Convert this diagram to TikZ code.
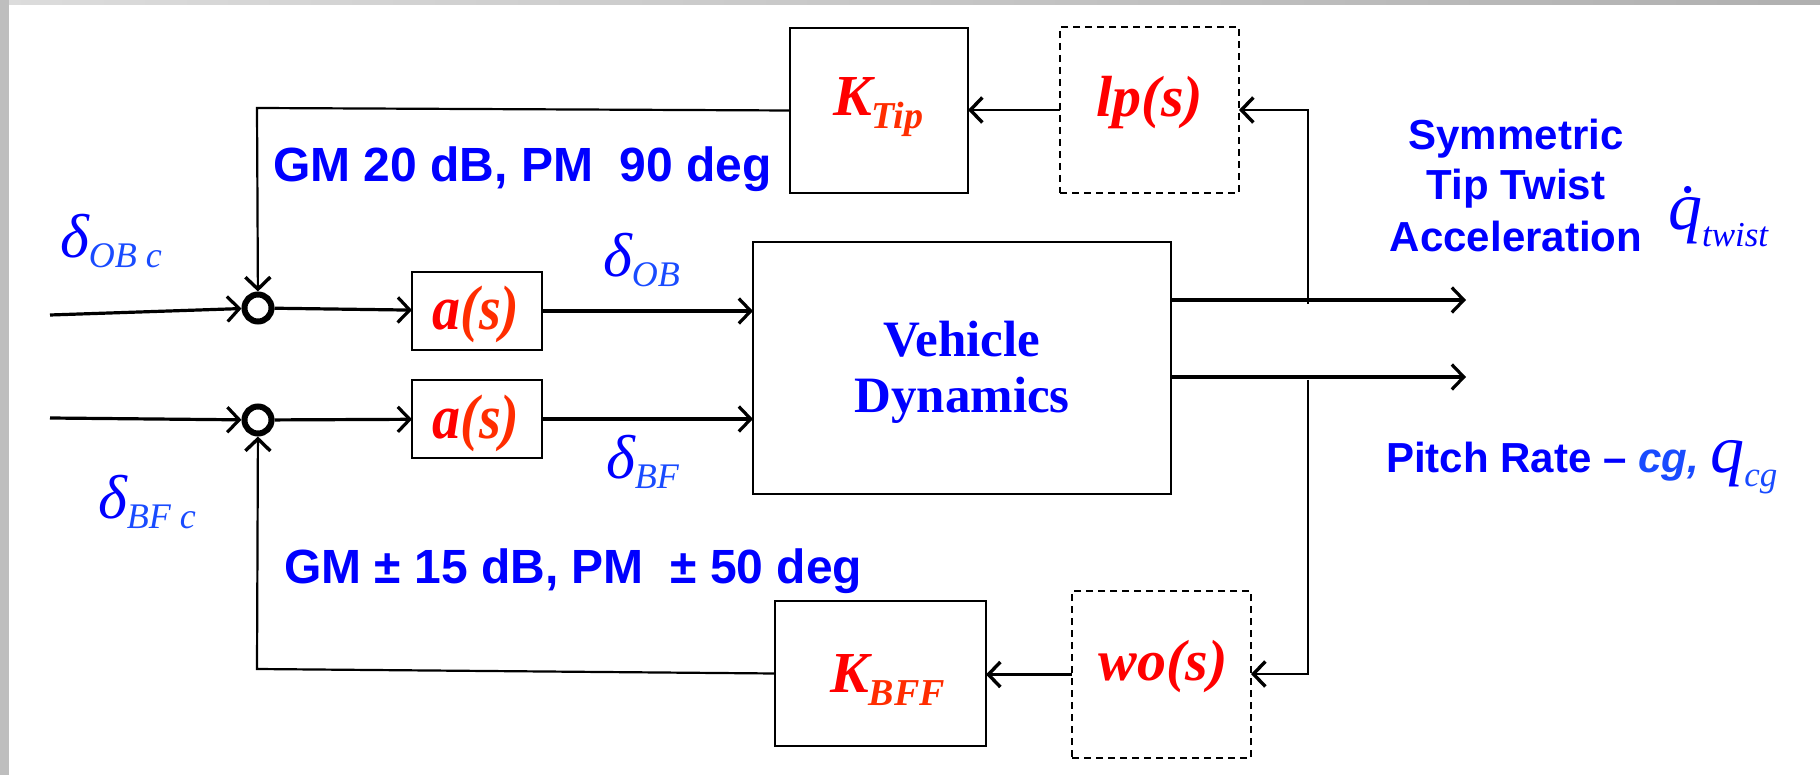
\documentclass[tikz,border=0pt]{standalone}
\usepackage{fontspec}
\setmainfont{Liberation Serif}
\newfontfamily\arialf{Liberation Sans}
\usetikzlibrary{arrows.meta}
\definecolor{bl}{RGB}{0,0,255}
\definecolor{bls}{RGB}{25,75,255}
\definecolor{rd}{RGB}{255,0,0}
\definecolor{rds}{RGB}{255,45,0}
\definecolor{barlight}{RGB}{220,220,220}
\definecolor{bardark}{RGB}{176,176,176}
\definecolor{barleft}{RGB}{190,190,190}
\newcommand{\fsz}[1]{\fontsize{#1}{#1}\selectfont}
\begin{document}
\begin{tikzpicture}[x=1pt,y=-1pt,
 blk/.style={draw=black, line width=2pt, inner sep=0pt, outer sep=0pt},
 dblk/.style={draw=black, line width=1.6pt, dash pattern=on 7pt off 5pt, inner sep=0pt, outer sep=0pt},
 sumj/.style={circle, draw=black, line width=6pt, minimum size=27pt, inner sep=0pt, outer sep=3pt},
 txt/.style={inner sep=0pt, outer sep=0pt, anchor=base west},
 ctxt/.style={inner sep=0pt, outer sep=0pt, anchor=base},
 sig/.style={line width=3.2pt, -{Straight Barb[length=12pt,width=25pt]}},
 fba/.style={line width=2.2pt, -{Straight Barb[length=12pt,width=25pt,line width=3.4pt]}},
]
\useasboundingbox (0,0) rectangle (1820,775);
\fill[white] (0,0) rectangle (1820,775);
\shade[left color=barlight, right color=bardark] (0,0) rectangle (1820,5);
\fill[barleft] (0,0) rectangle (9,775);

% blocks
\node[blk, minimum width=178pt, minimum height=165pt] (ktip) at (879,110.5) {};
\node[dblk, minimum width=179pt, minimum height=166pt] (lp) at (1149.5,110) {};
\node[blk, minimum width=418pt, minimum height=252pt] (vd) at (962,368) {};
\node[blk, minimum width=130pt, minimum height=78pt] (a1) at (477,311) {};
\node[blk, minimum width=130pt, minimum height=78pt] (a2) at (477,419) {};
\node[blk, minimum width=211pt, minimum height=145pt] (kbff) at (880.5,673.5) {};
\node[dblk, minimum width=179pt, minimum height=167pt] (wo) at (1161.5,674.5) {};
\node[sumj] (s1) at (258,308) {};
\node[sumj] (s2) at (258,420) {};

% free ends and bends
\coordinate (in1) at (50,315);
\coordinate (in2) at (50,418);
\coordinate (o1) at (1466,300);
\coordinate (o2) at (1466,377);
\coordinate (t1) at (1308,304);
\coordinate (t2) at (1308,110);
\coordinate (b1) at (1308,380);
\coordinate (b2) at (1308,674);
\coordinate (c1) at (257,108);
\coordinate (c2) at (257,669);

% connectors
\draw[sig] (in1) -- (s1);
\draw[sig] (s1) -- (a1);
\draw[sig] (a1.east) -- (vd.west |- a1.east);
\draw[sig] (in2) -- (s2);
\draw[sig] (s2) -- (a2);
\draw[sig] (a2.east) -- (vd.west |- a2.east);
\draw[sig] (vd.east |- o1) -- (o1);
\draw[sig] (vd.east |- o2) -- (o2);
\draw[fba] (t1) -- (t2) -- (lp.east |- t2);
\draw[fba] (lp.west) -- (ktip.east |- lp.west);
\draw[fba] (ktip.west) -- (c1) -- (s1);
\draw[fba] (b1) -- (b2) -- (wo.east |- b2);
\draw[fba] (wo.west) -- (kbff.east |- wo.west);
\draw[fba] (kbff.west) -- (c2) -- (s2);

% block texts
\node[txt, text=rd] (ktipT) at (833,116) {\bfseries\itshape\fsz{58}K\raisebox{-13pt}{\color{rds}\fsz{38}Tip}};
\node[txt, text=rd] (kbffT) at (830,692) {\bfseries\itshape\fsz{58}K\raisebox{-13pt}{\color{rds}\fsz{38}BFF}};
\node[ctxt, text=rd] (lpT) at (1150,117) {\bfseries\itshape\fsz{58}lp(s)};
\node[ctxt, text=rd] (woT) at (1163,680) {\bfseries\itshape\fsz{58}wo(s)};
\node[ctxt, text=rd] (a1T) at (476,330) {\bfseries\itshape\fsz{56}\scalebox{1}[1.12]{a{\color{rds}(s)}}};
\node[ctxt, text=rd] (a2T) at (476,438) {\bfseries\itshape\fsz{56}\scalebox{1}[1.12]{a{\color{rds}(s)}}};
\node[ctxt, text=bl] (veh) at (962,357) {\bfseries\fsz{51}Vehicle};
\node[ctxt, text=bl] (dyn) at (962,412) {\bfseries\fsz{51}Dynamics};

% signal labels
\node[txt, text=bl] (dobc) at (60,258) {\itshape\fsz{62}δ\raisebox{-10pt}{\color{bls}\fsz{36}OB c}};
\node[txt, text=bl] (dob) at (603,277) {\itshape\fsz{62}δ\raisebox{-10pt}{\color{bls}\fsz{36}OB}};
\node[txt, text=bl] (dbf) at (606,478) {\itshape\fsz{62}δ\raisebox{-10pt}{\color{bls}\fsz{36}BF}};
\node[txt, text=bl] (dbfc) at (98,518) {\itshape\fsz{62}δ\raisebox{-10pt}{\color{bls}\fsz{36}BF c}};

\node[txt, text=bl] (gm1) at (273,182) {\arialf\bfseries\fsz{48}GM 20 dB, PM~ 90 deg};
\node[txt, text=bl] (gm2) at (284,583) {\arialf\bfseries\fsz{48}GM ± 15 dB, PM~ ± 50 deg};

\node[ctxt, text=bl] (sym1) at (1516,150) {\arialf\bfseries\fsz{42}Symmetric};
\node[ctxt, text=bl] (sym2) at (1516,200) {\arialf\bfseries\fsz{42}Tip Twist};
\node[ctxt, text=bl] (sym3) at (1516,252) {\arialf\bfseries\fsz{42}Acceleration};
\node[txt, text=bl] (qt) at (1668,230) {\itshape\fsz{68}\.{q}\raisebox{-17pt}{\fsz{35}twist}};
\node[txt, text=bl] (pr) at (1386,472) {\arialf\bfseries\fsz{42}Pitch Rate – {\color{bls}\itshape cg,} {\rmfamily\mdseries\itshape\fsz{68}q}\raisebox{-14pt}{\rmfamily\mdseries\itshape\fsz{35}\color{bls}cg}};
\end{tikzpicture}
\end{document}
